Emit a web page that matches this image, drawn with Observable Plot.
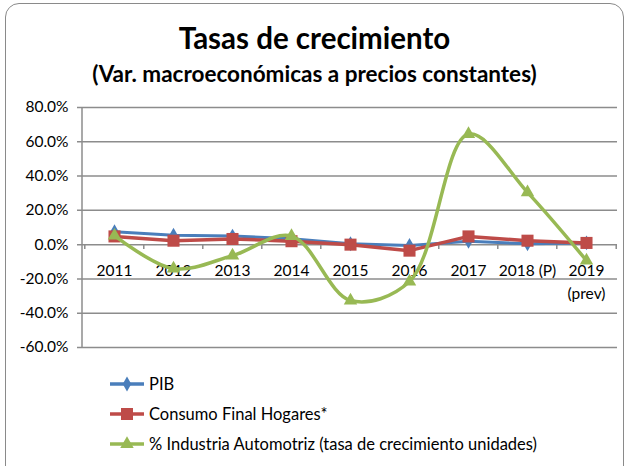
<!DOCTYPE html>
<html><head><meta charset="utf-8">
<script src="https://cdn.jsdelivr.net/npm/d3@7"></script>
<script src="https://cdn.jsdelivr.net/npm/@observablehq/plot@0.6"></script>
<style>
html,body{margin:0;padding:0;background:#fff;}
#wrap{position:relative;width:629px;height:466px;overflow:hidden;font-family:Lato,"Open Sans",sans-serif;}
#frame{position:absolute;left:5px;top:3px;width:619px;height:480px;border:1.5px solid #8a8a8a;border-radius:14px;box-sizing:border-box;}
#title{position:absolute;left:0;width:629px;top:20px;text-align:center;font-weight:bold;font-size:29.5px;color:#000;}
#subtitle{position:absolute;left:0;width:629px;top:60px;text-align:center;font-weight:bold;font-size:22.5px;color:#000;}
#chart{position:absolute;left:0;top:90px;}
#legend{position:absolute;left:108px;top:369px;font-size:16.5px;color:#000;}
.row{height:30px;display:flex;align-items:center;}
.row svg{margin-right:3px;}
</style></head>
<body><div id="wrap"><div id="frame"></div>
<div id="title">Tasas de crecimiento</div>
<div id="subtitle">(Var. macroeconómicas a precios constantes)</div>
<div id="chart"></div>
<div id="legend"></div>
</div>
<script>
const years = ["2011","2012","2013","2014","2015","2016","2017","2018 (P)","2019\n(prev)"];
const pib = [7.5, 5.5, 5.0, 3.5, 0.5, -0.5, 2.0, 0.5, 1.0];
const consumo = [4.8, 2.3, 3.3, 2.0, 0.0, -3.5, 4.8, 2.3, 1.0];
const automotriz = [5.2, -14.0, -6.4, 5.0, -32.6, -21.5, 64.5, 30.5, -9.3];
const yTicks = [80, 60, 40, 20, 0, -20, -40, -60];
const seriesNames = ["PIB", "Consumo Final Hogares*", "% Industria Automotriz (tasa de crecimiento unidades)"];
const colors = ["#4A7EBB", "#BE4B48", "#98B954"];
const symbols = ["diamond", "square", "triangle"];

const rows = (vals) => years.map((y, i) => ({year: y, value: vals[i]}));
const dPib = rows(pib), dCons = rows(consumo), dAuto = rows(automotriz);

const W = 629, H = 270, mL = 82, mR = 12;
const band = (W - mL - mR) / years.length;

const plot = Plot.plot({
  width: W, height: H,
  marginLeft: mL, marginRight: mR, marginTop: 17, marginBottom: 13,
  x: {type: "point", domain: years, padding: 0.5, axis: null},
  y: {domain: [-60, 80], axis: null},
  style: {fontFamily: "Lato, 'Open Sans', sans-serif", background: "transparent"},
  marks: [
    Plot.ruleY(yTicks.filter(d => d !== 0), {y: d => d, stroke: "#8c8c8c", strokeWidth: 1.5, insetLeft: -5}),
    Plot.axisY({ticks: yTicks, tickSize: 0, tickPadding: 14, tickFormat: d => d.toFixed(1) + "%", fontSize: 15.5, fill: "#000", label: null}),
    Plot.ruleY([0], {stroke: "#8c8c8c", strokeWidth: 1.5, insetLeft: -5}),
    Plot.ruleX(years, {x: d => d, dx: -band / 2, y1: 0, y2: -2.8, stroke: "#8c8c8c", strokeWidth: 1.5}),
    Plot.ruleX([years[years.length - 1]], {x: d => d, dx: band / 2, y1: 0, y2: -2.8, stroke: "#8c8c8c", strokeWidth: 1.5}),
    Plot.text(years, {x: d => d, y: 0, dy: 15, lineAnchor: "top", lineHeight: 1.5, fontSize: 15.5, fill: "#000", text: d => d}),
    Plot.line(dPib, {x: "year", y: "value", stroke: colors[0], strokeWidth: 3}),
    Plot.dot(dPib, {x: "year", y: "value", symbol: symbols[0], fill: colors[0], r: 4.5}),
    Plot.line(dCons, {x: "year", y: "value", stroke: colors[1], strokeWidth: 3.5}),
    Plot.dot(dCons, {x: "year", y: "value", symbol: symbols[1], fill: colors[1], r: 6.8}),
    Plot.line(dAuto, {x: "year", y: "value", stroke: colors[2], strokeWidth: 3.5, curve: "catmull-rom"}),
    Plot.dot(dAuto, {x: "year", y: "value", symbol: symbols[2], fill: colors[2], r: 5})
  ]
});
document.getElementById("chart").appendChild(plot);
const svg = d3.select(plot);
svg.append("line").attr("x1", mL).attr("x2", mL).attr("y1", 17).attr("y2", H - 13)
  .attr("stroke", "#8c8c8c").attr("stroke-width", 1.5);

const leg = d3.select("#legend");
seriesNames.forEach((name, i) => {
  const r = leg.append("div").attr("class", "row");
  const s = r.append("svg").attr("width", 38).attr("height", 16);
  s.append("line").attr("x1", 2).attr("x2", 36).attr("y1", 8).attr("y2", 8).attr("stroke", colors[i]).attr("stroke-width", 3.5);
  const sym = [d3.symbolDiamond, d3.symbolSquare, d3.symbolTriangle][i];
  const size = [4.5, 6.8, 5][i];
  s.append("path").attr("transform", "translate(19,8)").attr("d", d3.symbol(sym, Math.PI * size * size)()).attr("fill", colors[i]);
  r.append("span").text(name);
});
</script>
</body></html>
